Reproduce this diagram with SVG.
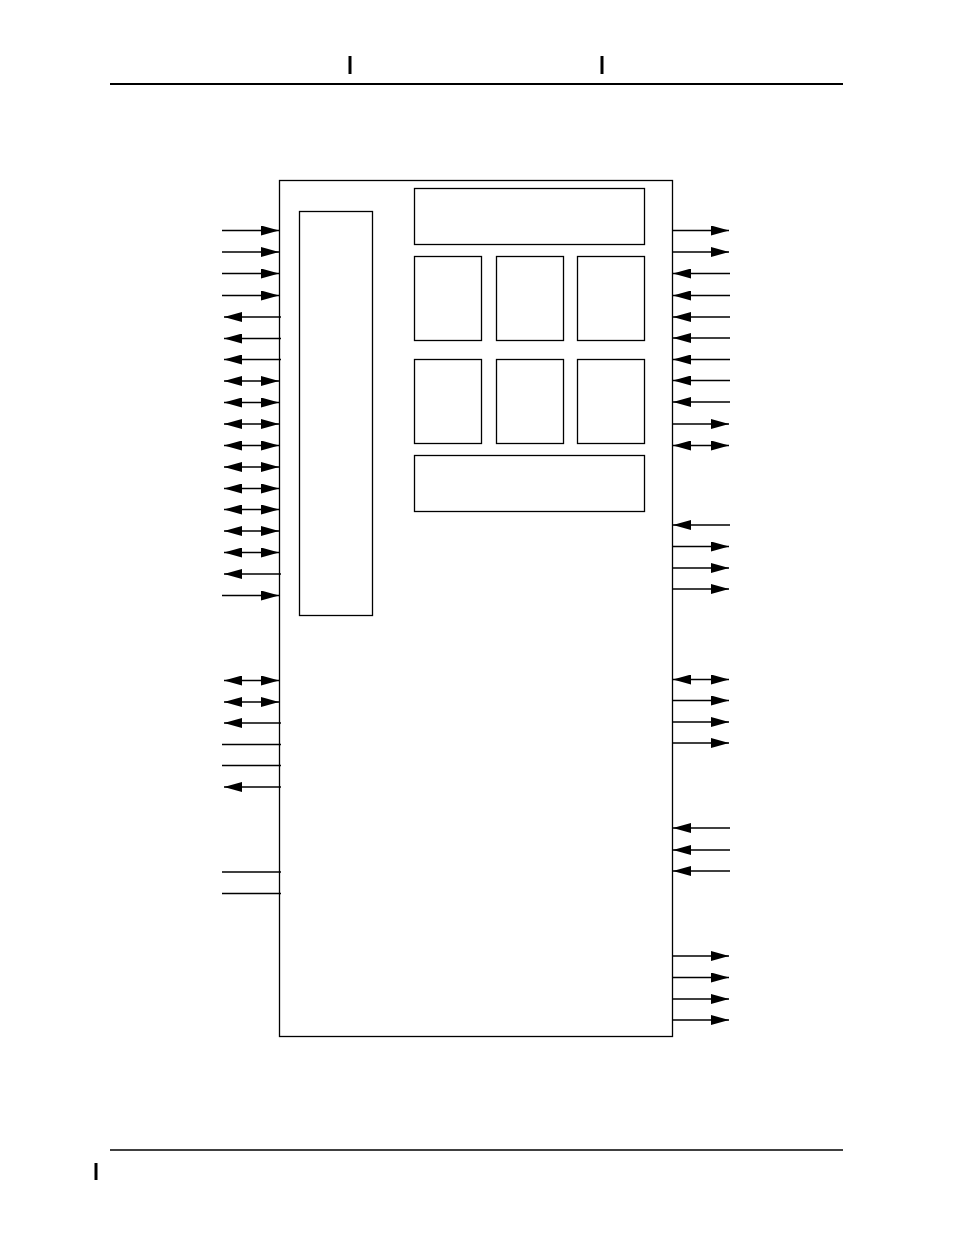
<svg xmlns="http://www.w3.org/2000/svg" width="954" height="1235" viewBox="0 0 954 1235">
<style>
.box{fill:none;stroke:#000;stroke-width:1.3}
.w{stroke:#000;stroke-width:1.3;fill:none}
.a{marker-end:url(#ah)}
.b{marker-start:url(#ah);marker-end:url(#ah)}
</style>
<defs>
<marker id="ah" viewBox="0 0 18 10" refX="18" refY="5" markerWidth="18" markerHeight="10" markerUnits="userSpaceOnUse" orient="auto-start-reverse">
<path d="M0,0 L18,5 L0,10 z" fill="#000"/>
</marker>
</defs>
<rect width="954" height="1235" fill="#fff"/>
<g id="header">
<line x1="110" y1="84" x2="843" y2="84" stroke="#000" stroke-width="2"/>
<line x1="350" y1="56" x2="350" y2="74" stroke="#000" stroke-width="3"/>
<line x1="602" y1="56" x2="602" y2="74" stroke="#000" stroke-width="3"/>
</g>
<g id="footer">
<line x1="110" y1="1150" x2="843" y2="1150" stroke="#000" stroke-width="1.3"/>
<line x1="96" y1="1163" x2="96" y2="1180" stroke="#000" stroke-width="3"/>
</g>
<g id="chip"><rect class="box" x="279.5" y="180.5" width="393" height="856"/></g>
<g id="left-block"><rect class="box" x="299.5" y="211.5" width="73" height="404"/></g>
<g id="top-block"><rect class="box" x="414.5" y="188.5" width="230" height="56"/></g>
<g id="blk1"><rect class="box" x="414.5" y="256.5" width="67" height="84"/></g>
<g id="blk2"><rect class="box" x="496.5" y="256.5" width="67" height="84"/></g>
<g id="blk3"><rect class="box" x="577.5" y="256.5" width="67" height="84"/></g>
<g id="blk4"><rect class="box" x="414.5" y="359.5" width="67" height="84"/></g>
<g id="blk5"><rect class="box" x="496.5" y="359.5" width="67" height="84"/></g>
<g id="blk6"><rect class="box" x="577.5" y="359.5" width="67" height="84"/></g>
<g id="bottom-block"><rect class="box" x="414.5" y="455.5" width="230" height="56"/></g>
<g id="connectors">
<!-- left inputs -->
<line class="w a" x1="222" y1="230.5" x2="279" y2="230.5"/>
<line class="w a" x1="222" y1="252" x2="279" y2="252"/>
<line class="w a" x1="222" y1="273.5" x2="279" y2="273.5"/>
<line class="w a" x1="222" y1="295.5" x2="279" y2="295.5"/>
<!-- left outputs -->
<line class="w a" x1="281" y1="317" x2="224" y2="317"/>
<line class="w a" x1="281" y1="338.5" x2="224" y2="338.5"/>
<line class="w a" x1="281" y1="359.5" x2="224" y2="359.5"/>
<!-- left bidir -->
<line class="w b" x1="224" y1="381" x2="279" y2="381"/>
<line class="w b" x1="224" y1="402.5" x2="279" y2="402.5"/>
<line class="w b" x1="224" y1="424" x2="279" y2="424"/>
<line class="w b" x1="224" y1="445.5" x2="279" y2="445.5"/>
<line class="w b" x1="224" y1="467" x2="279" y2="467"/>
<line class="w b" x1="224" y1="488.5" x2="279" y2="488.5"/>
<line class="w b" x1="224" y1="509.5" x2="279" y2="509.5"/>
<line class="w b" x1="224" y1="531" x2="279" y2="531"/>
<line class="w b" x1="224" y1="552.5" x2="279" y2="552.5"/>
<line class="w a" x1="281" y1="574" x2="224" y2="574"/>
<line class="w a" x1="222" y1="595.5" x2="279" y2="595.5"/>
<line class="w b" x1="224" y1="680.5" x2="279" y2="680.5"/>
<line class="w b" x1="224" y1="702" x2="279" y2="702"/>
<line class="w a" x1="281" y1="723" x2="224" y2="723"/>
<line class="w" x1="222" y1="744.5" x2="281" y2="744.5"/>
<line class="w" x1="222" y1="765.5" x2="281" y2="765.5"/>
<line class="w a" x1="281" y1="787" x2="224" y2="787"/>
<line class="w" x1="222" y1="872" x2="281" y2="872"/>
<line class="w" x1="222" y1="893.5" x2="281" y2="893.5"/>
<!-- right side -->
<line class="w a" x1="672" y1="230.5" x2="729" y2="230.5"/>
<line class="w a" x1="672" y1="252" x2="729" y2="252"/>
<line class="w a" x1="730" y1="273.5" x2="673" y2="273.5"/>
<line class="w a" x1="730" y1="295.5" x2="673" y2="295.5"/>
<line class="w a" x1="730" y1="317" x2="673" y2="317"/>
<line class="w a" x1="730" y1="338" x2="673" y2="338"/>
<line class="w a" x1="730" y1="359.5" x2="673" y2="359.5"/>
<line class="w a" x1="730" y1="380.5" x2="673" y2="380.5"/>
<line class="w a" x1="730" y1="402" x2="673" y2="402"/>
<line class="w a" x1="672" y1="424" x2="729" y2="424"/>
<line class="w b" x1="673" y1="445.5" x2="729" y2="445.5"/>
<line class="w a" x1="730" y1="525" x2="673" y2="525"/>
<line class="w a" x1="672" y1="546.5" x2="729" y2="546.5"/>
<line class="w a" x1="672" y1="568" x2="729" y2="568"/>
<line class="w a" x1="672" y1="589" x2="729" y2="589"/>
<line class="w b" x1="673" y1="679.5" x2="729" y2="679.5"/>
<line class="w a" x1="672" y1="700.5" x2="729" y2="700.5"/>
<line class="w a" x1="672" y1="722" x2="729" y2="722"/>
<line class="w a" x1="672" y1="743" x2="729" y2="743"/>
<line class="w a" x1="730" y1="828" x2="673" y2="828"/>
<line class="w a" x1="730" y1="850" x2="673" y2="850"/>
<line class="w a" x1="730" y1="871" x2="673" y2="871"/>
<line class="w a" x1="672" y1="956" x2="729" y2="956"/>
<line class="w a" x1="672" y1="977.5" x2="729" y2="977.5"/>
<line class="w a" x1="672" y1="999" x2="729" y2="999"/>
<line class="w a" x1="672" y1="1020" x2="729" y2="1020"/>
</g>
</svg>
